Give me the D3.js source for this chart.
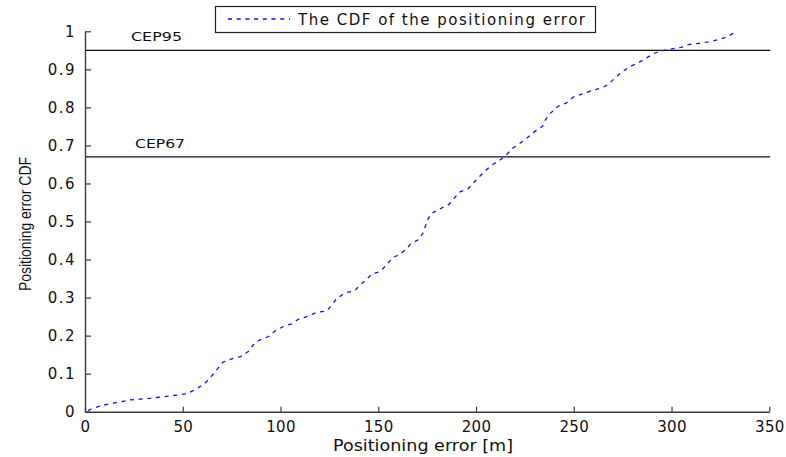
<!DOCTYPE html>
<html>
<head>
<meta charset="utf-8">
<script src="https://cdn.jsdelivr.net/npm/d3@7"></script>
<style>
  html, body { margin: 0; padding: 0; background: #fff; }
  svg { display: block; }
</style>
</head>
<body>
<svg id="chart" width="786" height="457"></svg>
<script>
// Data
const errorM = [1.5, 3.1, 8.5, 13.7, 18.4, 23.0, 28.1, 33.2, 37.8, 42.4, 47.6, 52.0, 57.1, 61.4, 64.8, 67.6, 70.4, 75.0, 79.6, 83.5, 86.1, 89.5, 93.7, 97.2, 101.4, 105.7, 109.1, 113.4, 118.5, 123.6, 125.8, 128.7, 132.9, 138.1, 140.3, 144.0, 146.6, 150.8, 154.3, 157.1, 161.4, 164.5, 166.5, 170.4, 172.7, 173.9, 175.2, 176.8, 181.5, 186.1, 188.7, 191.4, 196.0, 198.6, 201.5, 204.5, 207.6, 211.8, 215.3, 218.2, 222.1, 225.9, 229.6, 234.0, 235.2, 238.1, 242.0, 246.3, 249.7, 254.8, 259.6, 264.2, 267.6, 271.0, 274.4, 278.3, 282.9, 287.2, 291.5, 296.1, 304.9, 308.5, 313.6, 318.7, 323.8, 328.1, 332.9];
const cdfValue = [0.003, 0.007, 0.016, 0.022, 0.026, 0.031, 0.033, 0.035, 0.038, 0.041, 0.044, 0.047, 0.060, 0.075, 0.094, 0.112, 0.130, 0.139, 0.145, 0.158, 0.176, 0.189, 0.197, 0.212, 0.224, 0.231, 0.243, 0.250, 0.261, 0.265, 0.278, 0.297, 0.312, 0.318, 0.332, 0.347, 0.362, 0.368, 0.386, 0.404, 0.415, 0.428, 0.441, 0.452, 0.468, 0.485, 0.503, 0.520, 0.533, 0.545, 0.560, 0.577, 0.586, 0.601, 0.617, 0.632, 0.647, 0.660, 0.674, 0.691, 0.704, 0.719, 0.735, 0.750, 0.765, 0.785, 0.803, 0.812, 0.827, 0.836, 0.845, 0.851, 0.860, 0.877, 0.892, 0.906, 0.917, 0.930, 0.943, 0.950, 0.958, 0.965, 0.968, 0.972, 0.978, 0.985, 0.998];
const xTicks = [0, 50, 100, 150, 200, 250, 300, 350];
const yTicks = [0, 0.1, 0.2, 0.3, 0.4, 0.5, 0.6, 0.7, 0.8, 0.9, 1];
const cepLevels = [0.95, 0.67];
const cepLabels = ["CEP95", "CEP67"];
const legendLabel = "The CDF of the positioning error";
const xLabel = "Positioning error [m]";
const yLabel = "Positioning error CDF";

const svg = d3.select("#chart");
const x = d3.scaleLinear().domain([0, 350]).range([85, 769.3]);
const y = d3.scaleLinear().domain([0, 1]).range([411.7, 31.3]);
const axisColor = "#3a3a3a";
const tickFont = "'DejaVu Sans', sans-serif";

// CEP lines
cepLevels.forEach((lv, i) => {
  svg.append("line")
    .attr("x1", x(0)).attr("x2", x(350) + 1)
    .attr("y1", y(lv)).attr("y2", y(lv))
    .attr("stroke", "#111").attr("stroke-width", 1.3);
  svg.append("text")
    .attr("x", i === 0 ? 131 : 135)
    .attr("y", y(lv) - 9)
    .attr("font-family", tickFont)
    .attr("font-size", 12)
    .attr("textLength", i === 0 ? 51 : 50)
    .attr("lengthAdjust", "spacingAndGlyphs")
    .attr("fill", "#111")
    .text(cepLabels[i]);
});

// X axis
const xAxis = d3.axisBottom(x).tickValues(xTicks).tickSizeInner(-5).tickSizeOuter(0).tickPadding(10)
  .tickFormat(d3.format("d"));
const gx = svg.append("g").attr("transform", `translate(0,${y(0)})`).call(xAxis);
gx.select(".domain").attr("stroke", axisColor).attr("stroke-width", 1.4);
gx.selectAll(".tick line").attr("stroke", axisColor).attr("stroke-width", 1.2);
gx.selectAll(".tick text").attr("font-family", tickFont).attr("font-size", 15).attr("fill", "#111")
  .attr("letter-spacing", 0.3);

// Y axis
const yAxis = d3.axisLeft(y).tickValues(yTicks).tickSizeInner(-6).tickSizeOuter(0).tickPadding(9)
  .tickFormat(d => d === 0 || d === 1 ? String(d) : d3.format(".1f")(d));
const gy = svg.append("g").attr("transform", `translate(${x(0)},0)`).call(yAxis);
gy.select(".domain").attr("stroke", axisColor).attr("stroke-width", 1.4);
gy.selectAll(".tick line").attr("stroke", axisColor).attr("stroke-width", 1.2);
gy.selectAll(".tick text").attr("font-family", tickFont).attr("font-size", 15).attr("fill", "#111")
  .attr("letter-spacing", 1.5);

// Curve
const pts = errorM.map((e, i) => [e, cdfValue[i]]);
const line = d3.line().x(d => x(d[0])).y(d => y(d[1]));
svg.append("path")
  .datum(pts)
  .attr("d", line)
  .attr("fill", "none")
  .attr("stroke", "#1010ff")
  .attr("stroke-width", 1.3)
  .attr("stroke-dasharray", "4,4.7");

// Axis labels
svg.append("text")
  .attr("x", 333).attr("y", 451)
  .attr("font-family", tickFont).attr("font-size", 15)
  .attr("textLength", 180).attr("lengthAdjust", "spacingAndGlyphs")
  .attr("fill", "#111")
  .text(xLabel);

svg.append("text")
  .attr("transform", `translate(31,224) rotate(-90)`)
  .attr("text-anchor", "middle")
  .attr("font-family", "'Liberation Sans', Arial, sans-serif").attr("font-size", 17)
  .attr("textLength", 134).attr("lengthAdjust", "spacingAndGlyphs")
  .attr("fill", "#111")
  .text(yLabel);

// Legend
svg.append("rect")
  .attr("x", 215.5).attr("y", 6.5).attr("width", 380).attr("height", 26)
  .attr("fill", "#fff").attr("stroke", "#222").attr("stroke-width", 1.2);
svg.append("line")
  .attr("x1", 228).attr("x2", 290).attr("y1", 19).attr("y2", 19)
  .attr("stroke", "#1010ff").attr("stroke-width", 1.3).attr("stroke-dasharray", "4,4.7");
svg.append("text")
  .attr("x", 298).attr("y", 25)
  .attr("font-family", tickFont).attr("font-size", 15)
  .attr("textLength", 287).attr("lengthAdjust", "spacing")
  .attr("fill", "#111")
  .text(legendLabel);
</script>
</body>
</html>
